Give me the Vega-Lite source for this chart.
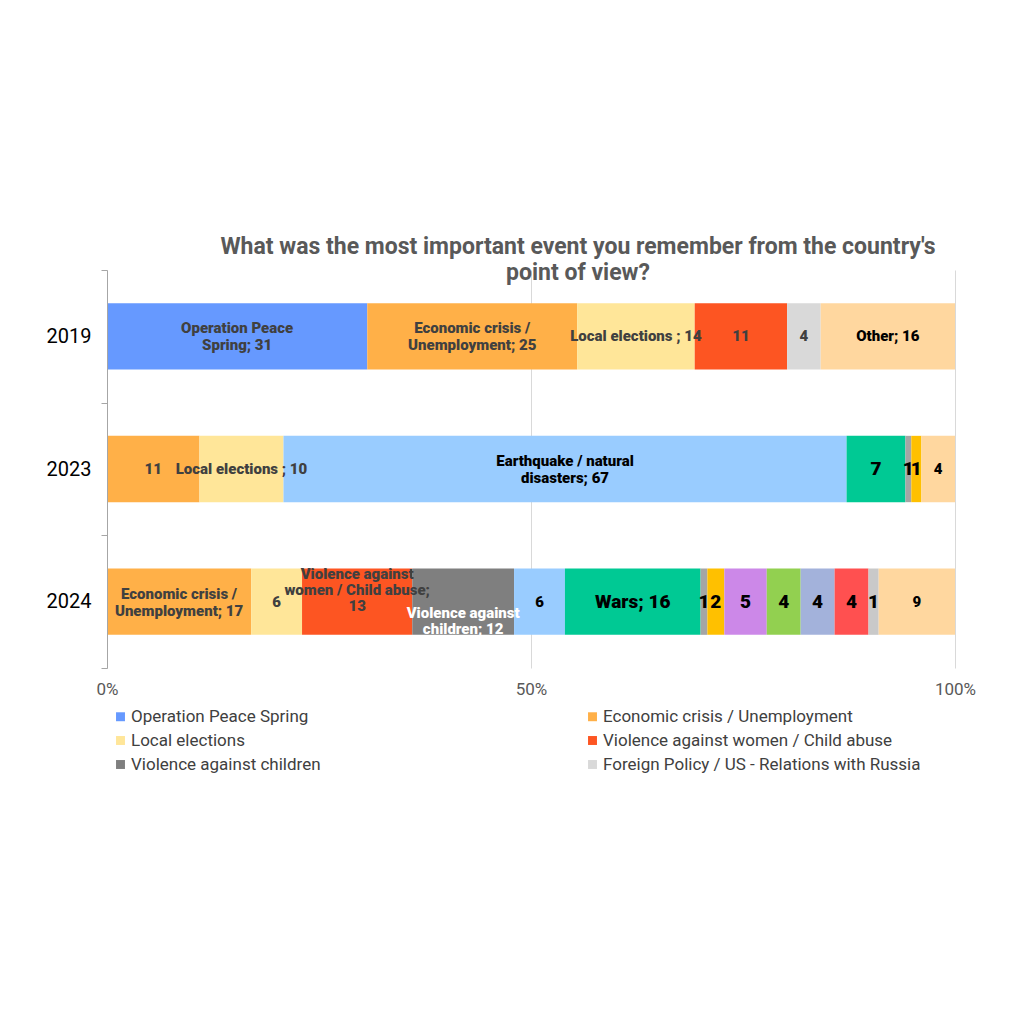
{
  "$schema": "https://vega.github.io/schema/vega-lite/v6.json",
  "autosize": {"type": "none"},
  "width": 848,
  "height": 398,
  "padding": {"left": 107, "top": 270, "right": 69, "bottom": 356},
  "background": "white",
  "title": {
    "text": ["What was the most important event you remember from the country's", "point of view?"],
    "font": "Roboto",
    "fontSize": 23,
    "fontWeight": "bold",
    "color": "#595959",
    "anchor": "middle",
    "dx": 47,
    "offset": -25,
    "lineHeight": 26
  },
  "config": {
    "view": {"stroke": null},
    "font": "Roboto"
  },
  "data": {
    "values": [
      {"year": "2019", "cat": "Operation Peace Spring", "value": 31, "label": "Operation Peace\nSpring; 31", "tone": "dark", "sz": "s"},
      {"year": "2019", "cat": "Economic crisis / Unemployment", "value": 25, "label": "Economic crisis /\nUnemployment; 25", "tone": "dark", "sz": "s"},
      {"year": "2019", "cat": "Local elections", "value": 14, "label": "Local elections ; 14", "tone": "dark", "sz": "s"},
      {"year": "2019", "cat": "Violence against women / Child abuse", "value": 11, "label": "11", "tone": "dark", "sz": "s"},
      {"year": "2019", "cat": "Foreign Policy / US - Relations with Russia", "value": 4, "label": "4", "tone": "dark", "sz": "s"},
      {"year": "2019", "cat": "Other", "value": 16, "label": "Other; 16", "tone": "black", "sz": "s"},
      {"year": "2023", "cat": "Economic crisis / Unemployment", "value": 11, "label": "11", "tone": "dark", "sz": "s"},
      {"year": "2023", "cat": "Local elections", "value": 10, "label": "Local elections ; 10", "tone": "dark", "sz": "s"},
      {"year": "2023", "cat": "Earthquake / natural disasters", "value": 67, "label": "Earthquake / natural\ndisasters; 67", "tone": "black", "sz": "s"},
      {"year": "2023", "cat": "Wars", "value": 7, "label": "7", "tone": "black", "sz": "b"},
      {"year": "2023", "cat": "Series 9", "value": 0.7, "label": "1", "tone": "black", "sz": "b"},
      {"year": "2023", "cat": "Series 10", "value": 1.2, "label": "1", "tone": "black", "sz": "b"},
      {"year": "2023", "cat": "Other", "value": 4, "label": "4", "tone": "black", "sz": "s"},
      {"year": "2024", "cat": "Economic crisis / Unemployment", "value": 17, "label": "Economic crisis /\nUnemployment; 17", "tone": "dark", "sz": "s"},
      {"year": "2024", "cat": "Local elections", "value": 6, "label": "6", "tone": "dark", "sz": "s"},
      {"year": "2024", "cat": "Violence against women / Child abuse", "value": 13, "label": "Violence against\nwomen / Child abuse;\n13", "tone": "dark", "sz": "s"},
      {"year": "2024", "cat": "Violence against children", "value": 12, "label": "Violence against\nchildren; 12", "tone": "white", "sz": "s"},
      {"year": "2024", "cat": "Earthquake / natural disasters", "value": 6, "label": "6", "tone": "black", "sz": "s"},
      {"year": "2024", "cat": "Wars", "value": 16, "label": "Wars; 16", "tone": "black", "sz": "b"},
      {"year": "2024", "cat": "Series 9", "value": 0.8, "label": "1", "tone": "black", "sz": "b"},
      {"year": "2024", "cat": "Series 10", "value": 2, "label": "2", "tone": "black", "sz": "b"},
      {"year": "2024", "cat": "Series 11", "value": 5, "label": "5", "tone": "black", "sz": "b"},
      {"year": "2024", "cat": "Series 12", "value": 4, "label": "4", "tone": "black", "sz": "b"},
      {"year": "2024", "cat": "Series 13", "value": 4, "label": "4", "tone": "black", "sz": "b"},
      {"year": "2024", "cat": "Series 14", "value": 4, "label": "4", "tone": "black", "sz": "b"},
      {"year": "2024", "cat": "Series 15", "value": 1.2, "label": "1", "tone": "black", "sz": "b"},
      {"year": "2024", "cat": "Other", "value": 9, "label": "9", "tone": "black", "sz": "s"}
    ]
  },
  "transform": [
    {"window": [{"op": "row_number", "as": "idx"}]},
    {
      "stack": "value",
      "groupby": ["year"],
      "sort": [{"field": "idx", "order": "ascending"}],
      "offset": "normalize",
      "as": ["x0", "x1"]
    },
    {"calculate": "(datum.x0 + datum.x1) / 2", "as": "xm"}
  ],
  "encoding": {
    "y": {
      "field": "year",
      "type": "nominal",
      "scale": {"paddingInner": 0, "paddingOuter": 0},
      "axis": {
        "title": null,
        "labelFontSize": 20,
        "labelColor": "#000000",
        "labelPadding": 10,
        "tickBand": "extent",
        "tickSize": 6,
        "tickColor": "#a6a6a6",
        "domainColor": "#a6a6a6",
        "zindex": 1
      }
    }
  },
  "layer": [
    {
      "mark": {"type": "bar", "height": {"band": 0.5}},
      "encoding": {
        "x": {
          "field": "x0",
          "type": "quantitative",
          "scale": {"domain": [0, 1]},
          "axis": {
            "title": null,
            "values": [0, 0.5, 1],
            "format": "%",
            "grid": true,
            "gridColor": "#d9d9d9",
            "domain": false,
            "ticks": false,
            "labelFlush": false,
            "labelFontSize": 17,
            "labelColor": "#595959",
            "labelPadding": 13
          }
        },
        "x2": {"field": "x1"},
        "color": {
          "field": "cat",
          "type": "nominal",
          "scale": {
            "domain": [
              "Operation Peace Spring",
              "Economic crisis / Unemployment",
              "Local elections",
              "Violence against women / Child abuse",
              "Violence against children",
              "Foreign Policy / US - Relations with Russia",
              "Earthquake / natural disasters",
              "Wars",
              "Series 9",
              "Series 10",
              "Series 11",
              "Series 12",
              "Series 13",
              "Series 14",
              "Series 15",
              "Other"
            ],
            "range": [
              "#6699ff",
              "#ffb048",
              "#ffe699",
              "#fd5522",
              "#7f7f7f",
              "#d9d9d9",
              "#99ccff",
              "#00c994",
              "#a5a5a5",
              "#ffc000",
              "#cc88e8",
              "#92d050",
              "#a3b2db",
              "#ff5050",
              "#c9c9c9",
              "#ffd79f"
            ]
          },
          "legend": {
            "title": null,
            "orient": "none",
            "legendX": 5,
            "legendY": 438,
            "columns": 2,
            "columnPadding": 263,
            "rowPadding": 6,
            "values": [
              "Operation Peace Spring",
              "Local elections",
              "Violence against children",
              "Economic crisis / Unemployment",
              "Violence against women / Child abuse",
              "Foreign Policy / US - Relations with Russia"
            ],
            "symbolType": "square",
            "symbolSize": 80,
            "symbolStrokeWidth": 0,
            "labelFontSize": 17,
            "labelColor": "#404040",
            "labelOffset": 2,
            "labelLimit": 400
          }
        }
      }
    },
    {
      "transform": [
        {"filter": "indexof(datum.label, '\\n') < 0"}
      ],
      "mark": {"type": "text", "fontWeight": 900, "baseline": "middle", "align": "center"},
      "encoding": {
        "x": {"field": "xm", "type": "quantitative"},
        "text": {"field": "label"},
        "color": {
          "field": "tone",
          "type": "nominal",
          "scale": {"domain": ["dark", "black", "white"], "range": ["#404040", "#000000", "#ffffff"]},
          "legend": null
        },
        "size": {
          "field": "sz",
          "type": "ordinal",
          "scale": {"domain": ["s", "b"], "range": [15, 19]},
          "legend": null
        }
      }
    },
    {
      "transform": [
        {"filter": "indexof(datum.label, '\\n') >= 0 && datum.year + datum.cat != '2024Violence against women / Child abuse' && datum.year + datum.cat != '2024Violence against children'"}
      ],
      "mark": {"type": "text", "fontWeight": 900, "lineBreak": "\n", "lineHeight": 17, "baseline": "middle", "align": "center", "dy": -8, "fontSize": 15},
      "encoding": {
        "x": {"field": "xm", "type": "quantitative"},
        "text": {"field": "label"},
        "color": {
          "field": "tone",
          "type": "nominal",
          "scale": {"domain": ["dark", "black", "white"], "range": ["#404040", "#000000", "#ffffff"]},
          "legend": null
        }
      }
    },
    {
      "transform": [
        {"filter": "datum.year == '2024' && datum.cat == 'Violence against women / Child abuse'"}
      ],
      "mark": {"type": "text", "fontWeight": 900, "lineBreak": "\n", "lineHeight": 16, "baseline": "middle", "align": "center", "dy": -28, "fontSize": 15, "color": "#404040"},
      "encoding": {
        "x": {"field": "xm", "type": "quantitative"},
        "text": {"field": "label"}
      }
    },
    {
      "transform": [
        {"filter": "datum.year == '2024' && datum.cat == 'Violence against children'"}
      ],
      "mark": {"type": "text", "fontWeight": 900, "lineBreak": "\n", "lineHeight": 16, "baseline": "middle", "align": "center", "dy": 11, "fontSize": 15, "color": "#ffffff"},
      "encoding": {
        "x": {"field": "xm", "type": "quantitative"},
        "text": {"field": "label"}
      }
    }
  ],
  "resolve": {"scale": {"color": "independent", "size": "independent"}, "legend": {"color": "independent"}}
}
